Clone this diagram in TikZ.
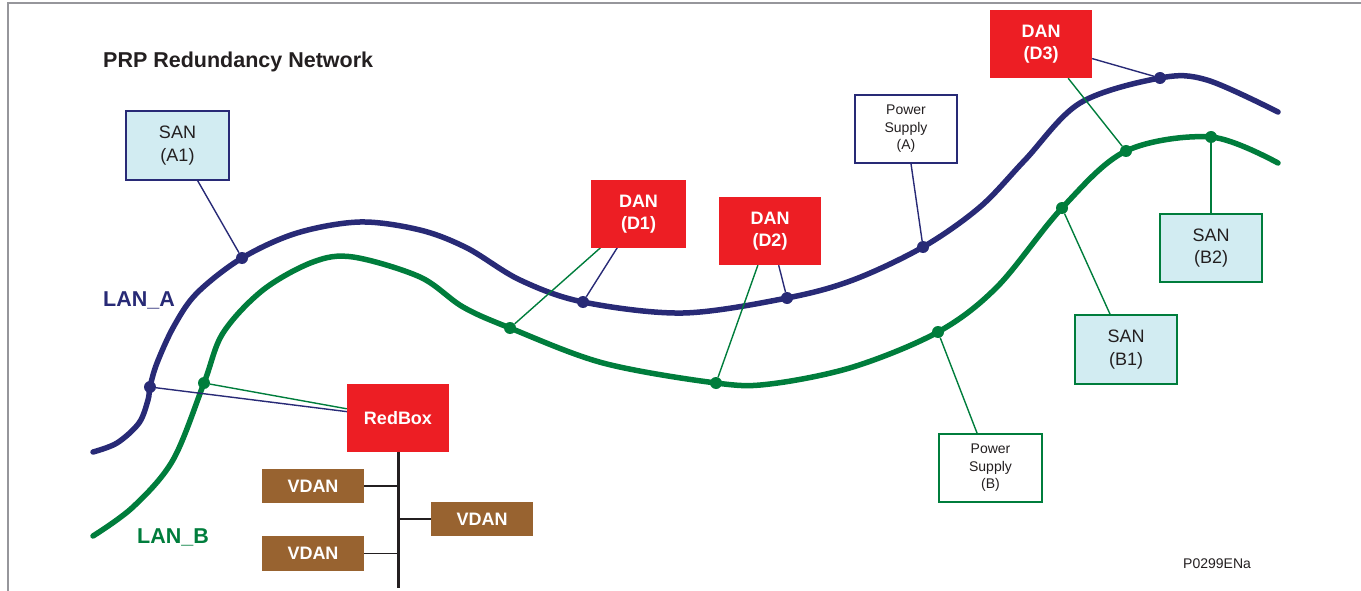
\documentclass[tikz,border=0pt]{standalone}
\usepackage{fontspec}
\setmainfont{Liberation Sans}
\definecolor{navy}{RGB}{40,42,118}
\definecolor{greenc}{RGB}{0,125,60}
\definecolor{redc}{RGB}{237,30,36}
\definecolor{brownc}{RGB}{152,99,48}
\definecolor{cyanfill}{RGB}{210,236,242}
\definecolor{txt}{RGB}{35,31,32}
\definecolor{framegray}{RGB}{150,150,155}
\begin{document}
\begin{tikzpicture}[x=1pt,y=-1pt,
  box/.style={draw, line width=1.4pt, minimum width=102pt, minimum height=68pt, inner sep=0pt, align=center, text=txt},
  san/.style={box, fill=cyanfill, font=\fontsize{18}{22.5}\selectfont},
  psu/.style={box, fill=white, font=\fontsize{14}{17.5}\selectfont},
  dan/.style={fill=redc, minimum width=102pt, minimum height=68pt, inner sep=0pt, align=center, text=white, font=\bfseries\fontsize{18}{22.5}\selectfont},
  vdan/.style={fill=brownc, minimum width=102pt, minimum height=34pt, inner sep=0pt, text=white, font=\bfseries\fontsize{18}{22}\selectfont},
  dotA/.style={circle, fill=navy, minimum size=12pt, inner sep=0pt},
  dotB/.style={circle, fill=greenc, minimum size=12pt, inner sep=0pt},
  lan/.style={line width=5.5pt, line cap=round},
  linkA/.style={navy, line width=1.4pt},
  linkB/.style={greenc, line width=1.4pt},
  stub/.style={draw=txt, line width=1.5pt},
  lanlabel/.style={anchor=base west, inner sep=0pt, font=\bfseries\fontsize{21.5}{25}\selectfont}]
\useasboundingbox (0,0) rectangle (1361,591);
% frame
\draw[framegray, line width=2pt] (8,591) -- (8,3.5) -- (1361,3.5);
% title and labels
\node[lanlabel, text=txt] (title) at (103,68) {PRP Redundancy Network};
\node[lanlabel, text=navy] (lanA) at (103,306) {LAN\_A};
\node[lanlabel, text=greenc] (lanB) at (137,543) {LAN\_B};
\node[anchor=base west, inner sep=0pt, text=txt, font=\fontsize{14}{17}\selectfont] (ref) at (1183,568) {P0299ENa};
% LAN curves
\draw[lan, navy] plot[smooth, tension=0.55] coordinates {(93,452) (117,443) (139,423) (148,400) (150,387) (157,363) (174,326) (197,293) (242,258) (297,233) (360,222) (420,230) (467,248) (520,280) (583,302) (683,313) (787,298) (853,280) (923,247) (980,207) (1025,160) (1080,103) (1160,78) (1207,80) (1278,112)};
\draw[lan, greenc] plot[smooth, tension=0.55] coordinates {(93,536) (133,507) (173,460) (204,383) (223,333) (263,290) (313,262) (353,257) (420,277) (463,307) (510,328) (603,363) (716,383) (770,384) (853,367) (938,332) (997,287) (1062,208) (1126,151) (1211,137) (1278,163)};
% boxes
\node[san, draw=navy, minimum width=103pt, minimum height=69pt] (sanA1) at (177.5,145.5) {SAN\\(A1)};
\node[dan, minimum width=95pt, minimum height=67pt] (d1) at (638.5,214) {DAN\\(D1)};
\node[dan] (d2) at (770,231) {DAN\\(D2)};
\node[dan] (d3) at (1041,44) {DAN\\(D3)};
\node[psu, draw=navy] (psA) at (906,129) {Power\\Supply\\(A)};
\node[psu, draw=greenc, minimum width=103pt] (psB) at (990.5,468) {Power\\Supply\\(B)};
\node[san, draw=greenc] (sanB2) at (1211,248) {SAN\\(B2)};
\node[san, draw=greenc, minimum height=69pt] (sanB1) at (1126,349.5) {SAN\\(B1)};
\node[dan] (redbox) at (398,418) {RedBox};
\node[vdan] (v1) at (313,486) {VDAN};
\node[vdan] (v2) at (482,519) {VDAN};
\node[vdan, minimum height=35pt] (v3) at (313,553.5) {VDAN};
% dots
\node[dotA] (a1) at (150,387) {};
\node[dotA] (a2) at (242,258) {};
\node[dotA] (a3) at (583,302) {};
\node[dotA] (a4) at (787,298) {};
\node[dotA] (a5) at (923,247) {};
\node[dotA] (a6) at (1160,78) {};
\node[dotB] (b1) at (204,383) {};
\node[dotB] (b2) at (510,328) {};
\node[dotB] (b3) at (716,383) {};
\node[dotB] (b4) at (938,332) {};
\node[dotB] (b5) at (1062,208) {};
\node[dotB] (b6) at (1126,151) {};
\node[dotB] (b7) at (1211,137) {};
% connectors
\draw[linkA] (sanA1) -- (a2);
\draw[linkA] (redbox) -- (a1);
\draw[linkB] (redbox) -- (b1);
\draw[linkA] (d1) -- (a3);
\draw[linkB] (d1) -- (b2);
\draw[linkA] (d2) -- (a4);
\draw[linkB] (d2) -- (b3);
\draw[linkA] (psA) -- (a5);
\draw[linkA] (d3) -- (a6);
\draw[linkB] (d3) -- (b6);
\draw[linkB] (sanB2) -- (b7);
\draw[linkB] (sanB1) -- (b5);
\draw[linkB] (psB) -- (b4);
% RedBox bus
\coordinate (busend) at (398,588);
\draw[txt, line width=3pt] (redbox.south) -- (busend);
\draw[stub] (v1.east) -- (v1.east -| busend);
\draw[stub] (v2.west) -- (v2.west -| busend);
\draw[stub] (v3.east) -- (v3.east -| busend);
% redraw boxes on top of connectors
\node[dan] at (redbox) {RedBox};
\node[dan, minimum width=95pt, minimum height=67pt] at (d1) {DAN\\(D1)};
\node[dan] at (d2) {DAN\\(D2)};
\node[dan] at (d3) {DAN\\(D3)};
\end{tikzpicture}
\end{document}
